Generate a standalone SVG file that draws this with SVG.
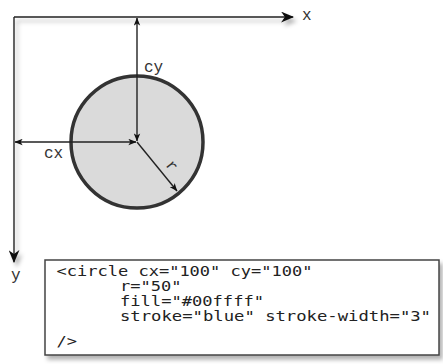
<svg xmlns="http://www.w3.org/2000/svg" width="443" height="364" viewBox="0 0 443 364">
  <style>
    .axis { stroke: #222; stroke-width: 1.4; fill: none; }
    .lab { font-family: "Liberation Mono", "Courier New", monospace; font-size: 16px; fill: #333; }
    .code { font-family: "DejaVu Sans Mono", "Liberation Mono", monospace; font-size: 14.5px; fill: #222; }
  </style>
  <defs>
    <filter id="sh" filterUnits="userSpaceOnUse" x="0" y="0" width="443" height="364">
      <feDropShadow dx="3" dy="4" stdDeviation="2" flood-color="#000" flood-opacity="0.3"/>
    </filter>
    <marker id="big" viewBox="0 0 12 10" refX="11" refY="5" markerWidth="13" markerHeight="11" markerUnits="userSpaceOnUse" orient="auto-start-reverse">
      <path d="M0,0 L12,5 L0,10 L3.5,5 Z" fill="#111"/>
    </marker>
    <marker id="sm" viewBox="0 0 10 8" refX="9.5" refY="4" markerWidth="8" markerHeight="7" markerUnits="userSpaceOnUse" orient="auto-start-reverse">
      <path d="M0,0 L10,4 L0,8 L2.5,4 Z" fill="#111"/>
    </marker>
  </defs>
  <rect width="443" height="364" fill="#fff"/>

  <g id="circle">
    <circle cx="137" cy="142" r="66" fill="#dadada" stroke="#333" stroke-width="3.5"/>
  </g>

  <g id="connectors">
    <path class="axis" filter="url(#sh)" d="M14,17 H293" marker-end="url(#big)"/>
    <path class="axis" filter="url(#sh)" d="M14,17 V262" marker-end="url(#big)"/>
    <path class="axis" d="M137,18 V141" marker-start="url(#sm)" marker-end="url(#sm)"/>
    <path class="axis" d="M15,142 H136" marker-start="url(#sm)" marker-end="url(#sm)"/>
    <path class="axis" d="M137,142 L177,191" marker-end="url(#sm)"/>
  </g>

  <g id="labels">
    <text class="lab" x="302" y="20">x</text>
    <text class="lab" x="11" y="280">y</text>
    <text class="lab" x="144" y="72">cy</text>
    <text class="lab" x="44" y="158">cx</text>
    <text class="lab" transform="translate(165,165) rotate(52)">r</text>
  </g>

  <g id="code">
    <rect x="45" y="260" width="394" height="95" fill="#fff" stroke="#444" stroke-width="1.5" filter="url(#sh)"/>
    <text class="code" x="56.5" y="276" textLength="256" lengthAdjust="spacingAndGlyphs">&lt;circle cx="100" cy="100"</text>
    <text class="code" x="120" y="291" textLength="61.5" lengthAdjust="spacingAndGlyphs">r="50"</text>
    <text class="code" x="120" y="305.5" textLength="144" lengthAdjust="spacingAndGlyphs">fill="#00ffff"</text>
    <text class="code" x="120" y="320.5" textLength="311" lengthAdjust="spacingAndGlyphs">stroke="blue" stroke-width="3"</text>
    <text class="code" x="56.5" y="346" textLength="20.5" lengthAdjust="spacingAndGlyphs">/&gt;</text>
  </g>
</svg>
